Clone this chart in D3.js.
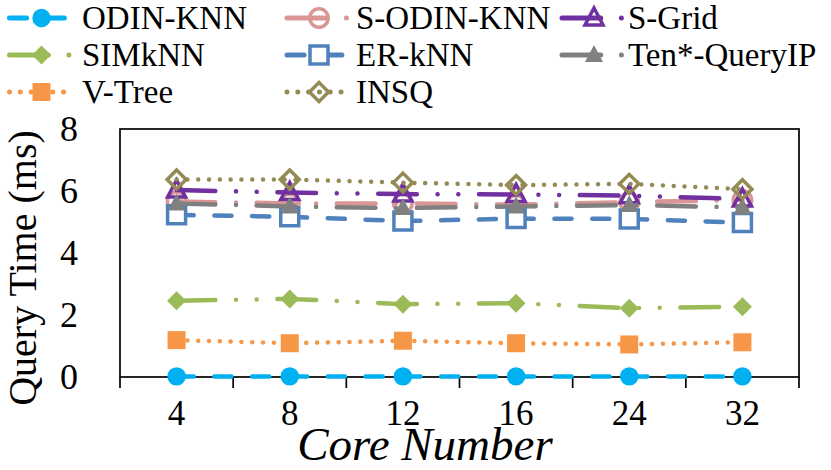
<!DOCTYPE html>
<html>
<head>
<meta charset="utf-8">
<script src="https://cdn.jsdelivr.net/npm/d3@7"></script>
<style>
  body { margin: 0; background: #fff; }
  text { font-family: "Liberation Serif", "Times New Roman", serif; fill: #000; }
</style>
</head>
<body>
<div id="chart"></div>
<script>
// data
const cores = ["4", "8", "12", "16", "24", "32"];
const odinKnn = [0.02, 0.02, 0.02, 0.02, 0.02, 0.02];
const sOdinKnn = [5.66, 5.6, 5.6, 5.56, 5.64, 5.71];
const sGrid = [6.03, 5.95, 5.9, 5.89, 5.85, 5.74];
const simKnn = [2.46, 2.52, 2.35, 2.38, 2.22, 2.27];
const erKnn = [5.23, 5.17, 5.03, 5.11, 5.10, 4.98];
const tenQueryIP = [5.6, 5.5, 5.45, 5.5, 5.55, 5.47];
const vTree = [1.19, 1.09, 1.17, 1.09, 1.05, 1.12];
const insq = [6.37, 6.37, 6.27, 6.19, 6.23, 6.06];
const yTicks = [0, 2, 4, 6, 8];

const width = 831, height = 470;
const plotL = 120, plotR = 799, plotT = 129, plotB = 377;

// excel-ish dash patterns (unit u, round caps)
const u = 5.4, sw = 4.5;
const dashes = {
    dash: [4 * u - sw, 3 * u + sw],
    longDashDot: [8 * u - sw, 3 * u + sw, 0.01, 3 * u + sw],
    longDashDotDot: [8 * u - sw, 3 * u + sw, 0.01, 3 * u + sw, 0.01, 3 * u + sw],
    dot: [0.01, 2 * u]
};

const series = [
    { name: "ODIN-KNN", values: odinKnn, color: "#00B0F0", dash: "dash", marker: "circle", fill: true },
    { name: "S-ODIN-KNN", values: sOdinKnn, color: "#DA9694", dash: "longDashDot", marker: "circle", fill: false },
    { name: "S-Grid", values: sGrid, color: "#7030A0", dash: "longDashDotDot", marker: "triangle", fill: false },
    { name: "SIMkNN", values: simKnn, color: "#9BBB59", dash: "longDashDotDot", marker: "diamond", fill: true },
    { name: "ER-kNN", values: erKnn, color: "#4F81BD", dash: "dash", marker: "square", fill: "white" },
    { name: "Ten*-QueryIP", values: tenQueryIP, color: "#808080", dash: "longDashDot", marker: "triangle", fill: true },
    { name: "V-Tree", values: vTree, color: "#F79646", dash: "dot", marker: "square", fill: true },
    { name: "INSQ", values: insq, color: "#948A54", dash: "dot", marker: "diamond", fill: false }
];

function markerPath(shape) {
    const p = d3.path();
    if (shape === "circle") {
        p.arc(0, 0, 9.2, 0, 2 * Math.PI);
    } else if (shape === "square") {
        p.rect(-9, -9, 18, 18);
    } else if (shape === "diamond") {
        p.moveTo(0, -9.5); p.lineTo(9.5, 0); p.lineTo(0, 9.5); p.lineTo(-9.5, 0); p.closePath();
    } else {
        p.moveTo(0, -10); p.lineTo(9, 7); p.lineTo(-9, 7); p.closePath();
    }
    return p.toString();
}

const svg = d3.select("#chart").append("svg")
    .attr("width", width)
    .attr("height", height);

const x = d3.scaleBand().domain(cores).range([plotL, plotR]).padding(0);
const y = d3.scaleLinear().domain([0, 8]).range([plotB, plotT]);
const cx = c => x(c) + x.bandwidth() / 2;

// plot frame
svg.append("rect")
    .attr("x", plotL).attr("y", plotT)
    .attr("width", plotR - plotL).attr("height", plotB - plotT)
    .attr("fill", "none").attr("stroke", "#000").attr("stroke-width", 1.7);

// x ticks at band edges
svg.selectAll(".xtick")
    .data(cores.map(c => x(c)).concat([plotR]))
    .enter().append("line")
    .attr("x1", d => d).attr("x2", d => d)
    .attr("y1", plotB).attr("y2", plotB + 11)
    .attr("stroke", "#000").attr("stroke-width", 1.7);

// x labels
const xAxis = svg.append("g")
    .attr("transform", `translate(0,${plotB})`)
    .call(d3.axisBottom(x).tickSize(0).tickPadding(23));
xAxis.select(".domain").remove();
xAxis.selectAll("text").attr("font-size", 35);

// y labels
const yAxis = svg.append("g")
    .attr("transform", `translate(${plotL},0)`)
    .call(d3.axisLeft(y).tickValues(yTicks).tickSize(0).tickPadding(42));
yAxis.select(".domain").remove();
yAxis.selectAll("text").attr("font-size", 36);

// lines
const line = d3.line()
    .x((d, i) => cx(cores[i]))
    .y(d => y(d));

series.forEach(s => {
    svg.append("path")
        .datum(s.values)
        .attr("d", line)
        .attr("fill", "none")
        .attr("stroke", s.color)
        .attr("stroke-width", sw)
        .attr("stroke-linecap", "round")
        .attr("stroke-dasharray", dashes[s.dash].join(","));

    svg.selectAll(null)
        .data(s.values)
        .enter().append("path")
        .attr("d", markerPath(s.marker))
        .attr("transform", (d, i) => `translate(${cx(cores[i])},${y(d)})`)
        .attr("fill", s.fill === true ? s.color : (s.fill || "none"))
        .attr("stroke", s.color)
        .attr("stroke-width", s.fill === true ? 0 : 3.5);
});

// axis titles
svg.append("text")
    .attr("transform", "translate(36,268) rotate(-90)")
    .attr("text-anchor", "middle")
    .attr("font-size", 40)
    .text("Query Time (ms)");

svg.append("text")
    .attr("x", 425).attr("y", 460)
    .attr("text-anchor", "middle")
    .attr("font-size", 47)
    .attr("font-style", "italic")
    .text("Core Number");

// legend, 3 columns row-major
const colSwatch = [9.5, 287, 562];
const colText = [82, 356, 628];
const rowY = [18, 55, 92];
const swLen = 60;

series.forEach((s, i) => {
    const col = i % 3, row = Math.floor(i / 3);
    const g = svg.append("g").attr("transform", `translate(0,${rowY[row]})`);
    g.append("line")
        .attr("x1", colSwatch[col]).attr("x2", colSwatch[col] + swLen)
        .attr("y1", 0).attr("y2", 0)
        .attr("stroke", s.color)
        .attr("stroke-width", 5)
        .attr("stroke-linecap", "round")
        .attr("stroke-dasharray", dashes[s.dash].join(","));
    g.append("path")
        .attr("d", markerPath(s.marker))
        .attr("transform", `translate(${colSwatch[col] + 32},0)`)
        .attr("fill", s.fill === true ? s.color : (s.fill || "none"))
        .attr("stroke", s.color)
        .attr("stroke-width", s.fill === true ? 0 : 3.5);
    g.append("text")
        .attr("x", colText[col]).attr("y", 11)
        .attr("font-size", 33)
        .text(s.name);
});
</script>
</body>
</html>
